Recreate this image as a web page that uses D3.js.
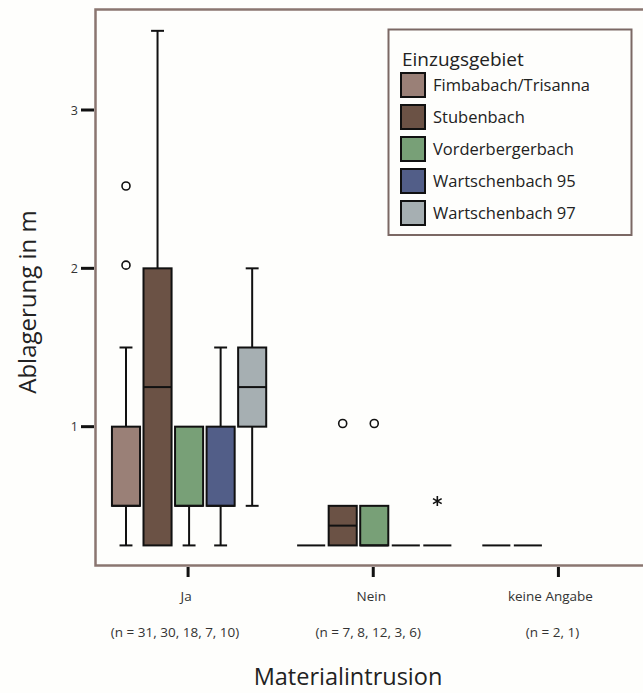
<!DOCTYPE html>
<html>
<head>
<meta charset="utf-8">
<script src="https://cdn.jsdelivr.net/npm/d3@7"></script>
<style>
  body { margin: 0; background: #fefefc; }
  svg { display: block; font-family: "Open Sans", sans-serif; }
</style>
</head>
<body>
<svg id="chart" width="643" height="693"></svg>
<script>
// Box plot: Ablagerung by Materialintrusion and Einzugsgebiet

const groups = ["Ja", "Nein", "keine Angabe"];
const groupCounts = ["(n = 31, 30, 18, 7, 10)", "(n = 7, 8, 12, 3, 6)", "(n = 2, 1)"];
const series = ["Fimbabach/Trisanna", "Stubenbach", "Vorderbergerbach", "Wartschenbach 95", "Wartschenbach 97"];
const seriesColors = ["#9a8077", "#6b5245", "#78a077", "#525e88", "#a6afb2"];

// [min, q1, median, q3, max] per series
const jaStats = [
  [0.25, 0.5, 0.5, 1.0, 1.5],
  [0.25, 0.25, 1.25, 2.0, 3.5],
  [0.25, 0.5, 0.5, 1.0, 1.0],
  [0.25, 0.5, 0.5, 1.0, 1.5],
  [0.5, 1.0, 1.25, 1.5, 2.0]
];
const neinStats = [
  [0.25, 0.25, 0.25, 0.25, 0.25],
  [0.25, 0.25, 0.375, 0.5, 0.5],
  [0.25, 0.25, 0.25, 0.5, 0.5],
  [0.25, 0.25, 0.25, 0.25, 0.25],
  [0.25, 0.25, 0.25, 0.25, 0.25]
];
const keineStats = [
  [0.25, 0.25, 0.25, 0.25, 0.25],
  [0.25, 0.25, 0.25, 0.25, 0.25],
  null, null, null
];
// outliers: [group, series index, value, kind]
const outliers = [
  ["Ja", 0, 2.02, "o"],
  ["Ja", 0, 2.52, "o"],
  ["Nein", 1, 1.02, "o"],
  ["Nein", 2, 1.02, "o"],
  ["Nein", 4, 0.53, "*"]
];
const yTicks = [1, 2, 3];

const statsByGroup = { "Ja": jaStats, "Nein": neinStats, "keine Angabe": keineStats };

const svg = d3.select("#chart");
const frame = { left: 95.5, top: 9.5, right: 651, bottom: 565.5 };
const frameColor = "#8a7670";
// the labels in the original sit a little left of their ticks
const catShift = [-2, -2, -8];
const countShift = [-13, -5, -6];

const x = d3.scaleBand().domain(groups).range([frame.left, frame.right]);
const xInner = d3.scaleBand()
  .domain(series)
  .range([1, x.bandwidth() + 1])
  .paddingInner(0.11)
  .paddingOuter(0.49);
const y = d3.scaleLinear().domain([0, 3]).range([585, 110]);

// plot frame
svg.append("rect")
  .attr("x", frame.left)
  .attr("y", frame.top)
  .attr("width", frame.right - frame.left)
  .attr("height", frame.bottom - frame.top)
  .attr("fill", "#fefefc")
  .attr("stroke", frameColor)
  .attr("stroke-width", 2.5);

// y axis ticks
const yAxis = svg.append("g").attr("class", "y-axis");
yAxis.selectAll("line")
  .data(yTicks)
  .join("line")
  .attr("x1", 81).attr("x2", 94)
  .attr("y1", d => y(d)).attr("y2", d => y(d))
  .attr("stroke", "#111").attr("stroke-width", 3);
yAxis.selectAll("text")
  .data(yTicks)
  .join("text")
  .attr("x", 78)
  .attr("y", d => y(d))
  .attr("dy", "0.36em")
  .attr("text-anchor", "end")
  .attr("font-size", 12.5)
  .attr("fill", "#333")
  .text(d => d);

// x axis ticks and labels
const xAxis = svg.append("g").attr("class", "x-axis");
xAxis.selectAll("line")
  .data(groups)
  .join("line")
  .attr("x1", d => x(d) + x.bandwidth() / 2)
  .attr("x2", d => x(d) + x.bandwidth() / 2)
  .attr("y1", 567).attr("y2", 577)
  .attr("stroke", "#111").attr("stroke-width", 3);
xAxis.selectAll("text.cat")
  .data(groups)
  .join("text")
  .attr("class", "cat")
  .attr("x", (d, i) => x(d) + x.bandwidth() / 2 + catShift[i])
  .attr("y", 601)
  .attr("text-anchor", "middle")
  .attr("font-size", 13.5)
  .attr("fill", "#333")
  .text(d => d);
xAxis.selectAll("text.count")
  .data(groupCounts)
  .join("text")
  .attr("class", "count")
  .attr("x", (d, i) => x(groups[i]) + x.bandwidth() / 2 + countShift[i])
  .attr("y", 637)
  .attr("text-anchor", "middle")
  .attr("font-size", 13.5)
  .attr("fill", "#333")
  .text(d => d);

// axis titles
svg.append("text")
  .attr("x", 348)
  .attr("y", 685)
  .attr("text-anchor", "middle")
  .attr("font-size", 23.5)
  .attr("fill", "#222")
  .text("Materialintrusion");
svg.append("text")
  .attr("transform", "translate(36, 302) rotate(-90)")
  .attr("text-anchor", "middle")
  .attr("font-size", 24)
  .attr("fill", "#222")
  .text("Ablagerung in m");

// boxes
const boxes = [];
groups.forEach(g => {
  statsByGroup[g].forEach((s, i) => {
    if (s) boxes.push({ group: g, series: series[i], color: seriesColors[i], s });
  });
});

const bw = xInner.bandwidth();
const boxG = svg.append("g").attr("class", "boxes")
  .selectAll("g")
  .data(boxes)
  .join("g")
  .attr("transform", d => `translate(${x(d.group) + xInner(d.series)},0)`);

boxG.each(function(d) {
  const g = d3.select(this);
  const [mn, q1, med, q3, mx] = d.s;
  const cx = bw / 2;
  const cap = bw * 0.46;
  if (mn === mx) {
    g.append("line")
      .attr("x1", 0).attr("x2", bw)
      .attr("y1", y(mn)).attr("y2", y(mn))
      .attr("stroke", "#111").attr("stroke-width", 2);
    return;
  }
  // whiskers
  if (mx > q3) {
    g.append("line").attr("x1", cx).attr("x2", cx)
      .attr("y1", y(q3)).attr("y2", y(mx))
      .attr("stroke", "#111").attr("stroke-width", 2);
    g.append("line").attr("x1", cx - cap / 2).attr("x2", cx + cap / 2)
      .attr("y1", y(mx)).attr("y2", y(mx))
      .attr("stroke", "#111").attr("stroke-width", 2);
  }
  if (mn < q1) {
    g.append("line").attr("x1", cx).attr("x2", cx)
      .attr("y1", y(q1)).attr("y2", y(mn))
      .attr("stroke", "#111").attr("stroke-width", 2);
    g.append("line").attr("x1", cx - cap / 2).attr("x2", cx + cap / 2)
      .attr("y1", y(mn)).attr("y2", y(mn))
      .attr("stroke", "#111").attr("stroke-width", 2);
  }
  g.append("rect")
    .attr("x", 0).attr("width", bw)
    .attr("y", y(q3)).attr("height", y(q1) - y(q3))
    .attr("fill", d.color)
    .attr("stroke", "#111").attr("stroke-width", 2);
  g.append("line")
    .attr("x1", 0).attr("x2", bw)
    .attr("y1", y(med)).attr("y2", y(med))
    .attr("stroke", "#111").attr("stroke-width", 2);
});

// outliers and extremes
const outG = svg.append("g").attr("class", "outliers");
outliers.forEach(([g, si, v, kind]) => {
  const cx = x(g) + xInner(series[si]) + bw / 2;
  if (kind === "o") {
    outG.append("circle")
      .attr("cx", cx).attr("cy", y(v)).attr("r", 4)
      .attr("fill", "none").attr("stroke", "#111").attr("stroke-width", 1.6);
  } else {
    outG.append("path")
      .attr("transform", `translate(${cx},${y(v)})`)
      .attr("d", d3.symbol(d3.symbolAsterisk, 70)())
      .attr("fill", "none").attr("stroke", "#111").attr("stroke-width", 1.6);
  }
});

// legend
const legend = svg.append("g").attr("class", "legend");
legend.append("rect")
  .attr("x", 388.5).attr("y", 29.5)
  .attr("width", 243).attr("height", 205.5)
  .attr("fill", "#fefefc")
  .attr("stroke", "#7b6864").attr("stroke-width", 2);
legend.append("text")
  .attr("x", 402).attr("y", 66)
  .attr("font-size", 19)
  .attr("fill", "#222")
  .text("Einzugsgebiet");
const item = legend.selectAll("g.item")
  .data(series)
  .join("g")
  .attr("class", "item")
  .attr("transform", (d, i) => `translate(401, ${85 + i * 32})`);
item.append("rect")
  .attr("x", 0).attr("y", -12)
  .attr("width", 24).attr("height", 24)
  .attr("fill", (d, i) => seriesColors[i])
  .attr("stroke", "#111").attr("stroke-width", 2);
item.append("text")
  .attr("x", 32).attr("y", 0)
  .attr("dy", "0.35em")
  .attr("font-size", 16.5)
  .attr("fill", "#222")
  .text(d => d);
</script>
</body>
</html>
